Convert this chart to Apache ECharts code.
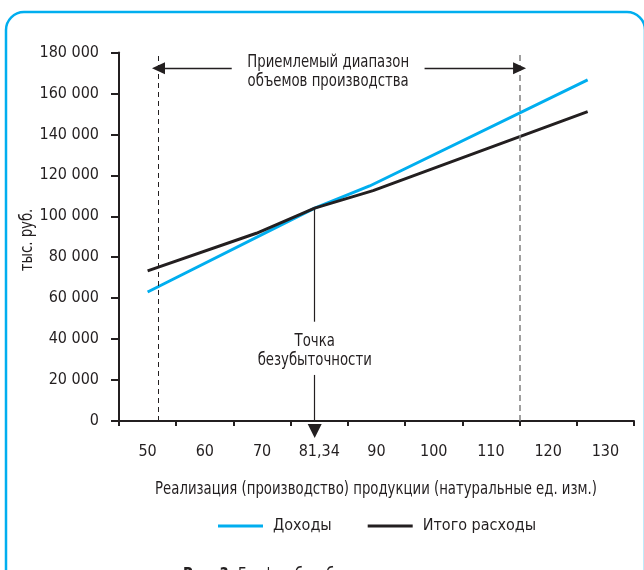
<!DOCTYPE html>
<html>
<head>
<meta charset="utf-8">
<script src="https://cdn.jsdelivr.net/npm/echarts@6/dist/echarts.min.js"></script>
<style>
html,body{margin:0;padding:0;background:#fff;}
#chart{width:644px;height:570px;}
</style>
</head>
<body>
<div id="chart"></div>
<script>
// ---- data ----
const categories = ['50', '60', '70', '81,34', '90', '100', '110', '120', '130'];
const yMin = 0, yMax = 180000, yInterval = 20000;
// x positions expressed in category-index units (0 = "50", 1 = "60", ...)
const incomeX = [0, 2.92, 3.88, 7.69];
const incomeY = [63000, 104000, 114800, 166600];
const costX = [0, 1.9, 2.92, 3.94, 7.69];
const costY = [73300, 91700, 104000, 112500, 151100];
const breakEvenX = 2.92;
const breakEvenY = 104000;
const rangeLeftX = 0.19;
const rangeRightX = 6.5;
const rangeArrowY = 172300;
const seriesNames = ['Доходы', 'Итого расходы'];

const FONT = "'DejaVu Sans Condensed', 'Liberation Sans Narrow', sans-serif";
const TXT = '#231f20';
const CYAN = '#00aeef';
const SX = 0.82;

const chart = echarts.init(document.getElementById('chart'), null, {renderer: 'canvas'});

function pairs(xs, ys) { return xs.map((x, i) => [x, ys[i]]); }

const option = {
  animation: false,
  backgroundColor: '#fff',
  textStyle: {fontFamily: FONT, color: TXT},
  grid: {left: 119, right: 10, top: 52.5, bottom: 149, containLabel: false, outerBoundsMode: 'none'},
  legend: {
    left: 218, top: 518, padding: 0,
    icon: 'rect', itemWidth: 45, itemHeight: 3, itemGap: 36,
    textStyle: {fontFamily: FONT, fontSize: 16, color: TXT, padding: [0, 0, 0, 5]},
    data: seriesNames
  },
  xAxis: [
    {
      type: 'category', data: categories, boundaryGap: true,
      axisLine: {lineStyle: {color: TXT, width: 2}},
      axisTick: {show: true, length: 5, interval: 0, lineStyle: {color: TXT, width: 2}},
      axisLabel: {fontFamily: FONT, fontSize: 16, color: TXT, margin: 23, interval: 0},
      splitLine: {show: false}
    },
    {type: 'value', min: -0.5, max: 8.5, show: false}
  ],
  yAxis: {
    type: 'value', min: yMin, max: yMax, interval: yInterval,
    axisLine: {show: true, onZero: false, lineStyle: {color: TXT, width: 2}},
    axisTick: {show: true, length: 8, lineStyle: {color: TXT, width: 2}},
    axisLabel: {
      fontFamily: FONT, fontSize: 16, color: TXT, margin: 20,
      formatter: v => String(v).replace(/\B(?=(\d{3})+(?!\d))/g, ' ')
    },
    splitLine: {show: false}
  },
  series: [
    {
      name: seriesNames[1], type: 'line', xAxisIndex: 1,
      data: pairs(costX, costY), showSymbol: false, symbol: 'none',
      lineStyle: {color: TXT, width: 3}, itemStyle: {color: TXT}, z: 3
    },
    {
      name: seriesNames[0], type: 'line', xAxisIndex: 1,
      data: pairs(incomeX, incomeY), showSymbol: false, symbol: 'none',
      lineStyle: {color: CYAN, width: 3}, itemStyle: {color: CYAN}, z: 2
    },
    {
      name: 'annot', type: 'line', xAxisIndex: 1, data: [], silent: true,
      markLine: {
        silent: true, animation: false,
        label: {show: false},
        symbol: ['none', 'none'],
        data: [
          [{coord: [rangeLeftX, yMin], lineStyle: {color: TXT, width: 1, type: [5, 4]}}, {coord: [rangeLeftX, yMax]}],
          [{coord: [rangeRightX, yMin], lineStyle: {color: '#808080', width: 1.5, type: [6, 4]}}, {coord: [rangeRightX, yMax]}],
          [{coord: [rangeLeftX, rangeArrowY], symbol: 'triangle', symbolSize: [12, 13], lineStyle: {color: TXT, width: 1.3, type: 'solid'}},
           {coord: [1.47, rangeArrowY], symbol: 'none'}],
          [{coord: [4.84, rangeArrowY], symbol: 'none', lineStyle: {color: TXT, width: 1.3, type: 'solid'}},
           {coord: [rangeRightX, rangeArrowY], symbol: 'triangle', symbolSize: [12, 13]}],
          [{coord: [breakEvenX, breakEvenY], lineStyle: {color: TXT, width: 1.2, type: 'solid'}}, {coord: [breakEvenX, 48500]}],
          [{coord: [breakEvenX, 22500], lineStyle: {color: TXT, width: 1.2, type: 'solid'}}, {coord: [breakEvenX, 0]}]
        ]
      }
    }
  ]
};
chart.setOption(option);

const be = chart.convertToPixel({xAxisIndex: 1, yAxisIndex: 0}, [breakEvenX, 0]);
const gl = chart.convertToPixel({xAxisIndex: 1, yAxisIndex: 0}, [1.47, rangeArrowY]);
const gr = chart.convertToPixel({xAxisIndex: 1, yAxisIndex: 0}, [4.84, rangeArrowY]);
const midX = (gl[0] + gr[0]) / 2;

function label(text, x, y, extra) {
  return Object.assign({
    type: 'text', x: x, y: y, scaleX: SX, silent: true,
    style: {text: text, font: '18px ' + FONT, fill: TXT, align: 'center', verticalAlign: 'middle'}
  }, extra || {});
}

chart.setOption({
  graphic: [
    {type: 'rect', shape: {x: 6, y: 12, width: 639, height: 700, r: 18},
     style: {fill: 'none', stroke: CYAN, lineWidth: 2.5}, silent: true},
    {type: 'polygon', shape: {points: [[be[0] - 7, be[1] + 3], [be[0] + 7, be[1] + 3], [be[0], be[1] + 17]]},
     style: {fill: TXT}, silent: true},
    label('Точка', be[0], 341),
    label('безубыточности', be[0], 360),
    label('Приемлемый диапазон', midX, 62),
    label('объемов производства', midX, 81),
    label('тыс. руб.', 27, 240, {rotation: Math.PI / 2, scaleX: SX}),
    label('Реализация (производство) продукции (натуральные ед. изм.)', 376, 489),
    {type: 'text', x: 183, y: 575, scaleX: SX, silent: true,
     style: {text: '{b|Рис. 3.} График безубыточности',
       rich: {b: {fontWeight: 'bold', fontFamily: FONT, fontSize: 18, fill: TXT}},
       font: '18px ' + FONT, fill: TXT, align: 'left', verticalAlign: 'middle'}}
  ]
});
</script>
</body>
</html>
